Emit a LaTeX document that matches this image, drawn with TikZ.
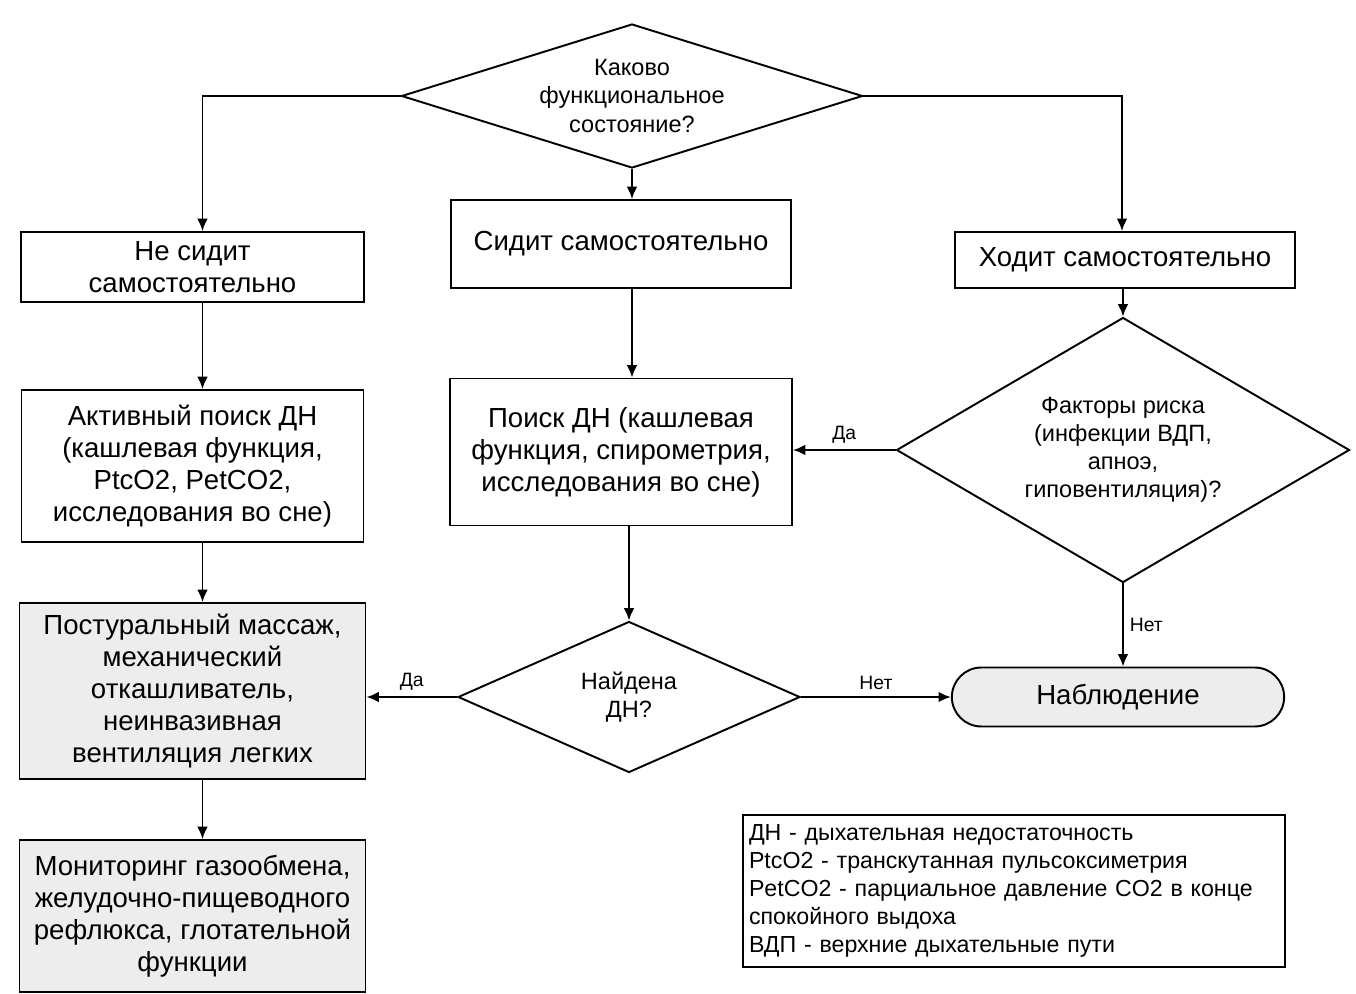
\documentclass[tikz,border=0pt]{standalone}
\usepackage{fontspec}
\setmainfont{Liberation Sans}
\usetikzlibrary{shapes.geometric}
\usetikzlibrary{shapes.misc}
\usetikzlibrary{arrows.meta}
\pgfdeclarelayer{edgelayer}
\pgfdeclarelayer{nodelayer}
\pgfsetlayers{edgelayer,nodelayer,main}
\tikzstyle{box}=[rectangle,fill=white,draw=black,line width=1.1pt,align=center,inner sep=2pt,font=\fontsize{15.7}{18.2}\selectfont]
\tikzstyle{grey_box}=[box,fill=black!7]
\tikzstyle{question}=[diamond,fill=white,draw=black,line width=1.1pt,align=center,inner sep=0pt,font=\fontsize{13.4}{16}\selectfont]
\tikzstyle{terminal}=[rounded rectangle,fill=black!7,draw=black,line width=1.1pt,font=\fontsize{15.7}{18.2}\selectfont]
\tikzstyle{legend}=[rectangle,fill=white,draw=black,line width=0.8pt,align=left,text width=10.6cm,font=\fontsize{13.2}{16}\selectfont]
\tikzstyle{transition}=[-{Latex[length=7pt,width=6pt]},draw=black,line width=1.1pt]
\tikzstyle{answer}=[font=\fontsize{11}{13}\selectfont]

\begin{document}
\begin{tikzpicture}
	\useasboundingbox (0, 0) rectangle (27.12, -19.88);
	\begin{pgfonlayer}{nodelayer}
		\node [style=question, aspect=3.2, minimum width=9.22cm, minimum height=2.88cm] (0) at (12.64, -1.92) {Каково\\функциональное\\состояние?};
		\node [style=box, minimum width=6.86cm, minimum height=1.4cm] (1) at (3.85, -5.34) {Не сидит\\самостоятельно};
		\node [style=box, minimum width=6.8cm, minimum height=1.76cm] (2) at (12.42, -4.88) {Сидит самостоятельно};
		\node [style=box, minimum width=6.8cm, minimum height=1.12cm] (3) at (22.5, -5.2) {Ходит самостоятельно};
		\node [style=box, minimum width=6.84cm, minimum height=3.04cm] (4) at (3.85, -9.32) {Активный поиск ДН\\(кашлевая функция,\\PtcO2, PetCO2,\\исследования во сне)};
		\node [style=box, minimum width=6.84cm, minimum height=2.94cm] (5) at (12.42, -9.04) {Поиск ДН (кашлевая\\функция, спирометрия,\\исследования во сне)};
		\node [style=question, aspect=1.71, minimum width=9.06cm, minimum height=5.3cm] (6) at (22.46, -9.0) {Факторы риска\\(инфекции ВДП,\\апноэ,\\гиповентиляция)?};
		\node [style={grey_box}, minimum width=6.92cm, minimum height=3.52cm] (7) at (3.85, -13.82) {Постуральный массаж,\\механический\\откашливатель,\\неинвазивная\\вентиляция легких};
		\node [style=question, aspect=2.26, minimum width=6.84cm, minimum height=3.02cm] (8) at (12.58, -13.94) {Найдена\\ДН?};
		\node [style=terminal, minimum width=6.88cm, minimum height=1.18cm] (9) at (22.36, -13.94) {Наблюдение};
		\node [style={grey_box}, minimum width=6.92cm, minimum height=3.04cm] (10) at (3.85, -18.32) {Мониторинг газообмена,\\желудочно-пищеводного\\рефлюкса, глотательной\\функции};
		\node [style=legend, minimum height=3.04cm] (11) at (20.28, -17.82) {ДН - дыхательная недостаточность\\PtcO2 - транскутанная пульсоксиметрия\\PetCO2 - парциальное давление CO2 в конце\\спокойного выдоха\\ВДП - верхние дыхательные пути};
	\end{pgfonlayer}
	\begin{pgfonlayer}{edgelayer}
		\draw [style=transition] (0.west) -| ([xshift=0.2cm]1.north);
		\draw [style=transition] (0.east) -| ([xshift=-0.06cm]3.north);
		\draw [style=transition] (0.south) to (0.south |- 2.north);
		\draw [style=transition] ([xshift=0.2cm]1.south) to ([xshift=0.2cm]4.north);
		\draw [style=transition] (2.south -| 0.south) to (5.north -| 0.south);
		\draw [style=transition] (3.south -| 6.north) to (6.north);
		\draw [style=transition] (6.west) to node[above, style=answer]{Да} (6.west -| 5.east);
		\draw [style=transition] ([xshift=0.2cm]4.south) to ([xshift=0.2cm]7.north);
		\draw [style=transition] (5.south -| 8.north) to (8.north);
		\draw [style=transition] (6.south) to node[right, style=answer]{Нет} (6.south |- 9.north);
		\draw [style=transition] (8.west) to node[above, style=answer]{Да} (8.west -| 7.east);
		\draw [style=transition] (8.east) to node[above, style=answer]{Нет} (9.west);
		\draw [style=transition] ([xshift=0.2cm]7.south) to ([xshift=0.2cm]10.north);
	\end{pgfonlayer}
\end{tikzpicture}
\end{document}
